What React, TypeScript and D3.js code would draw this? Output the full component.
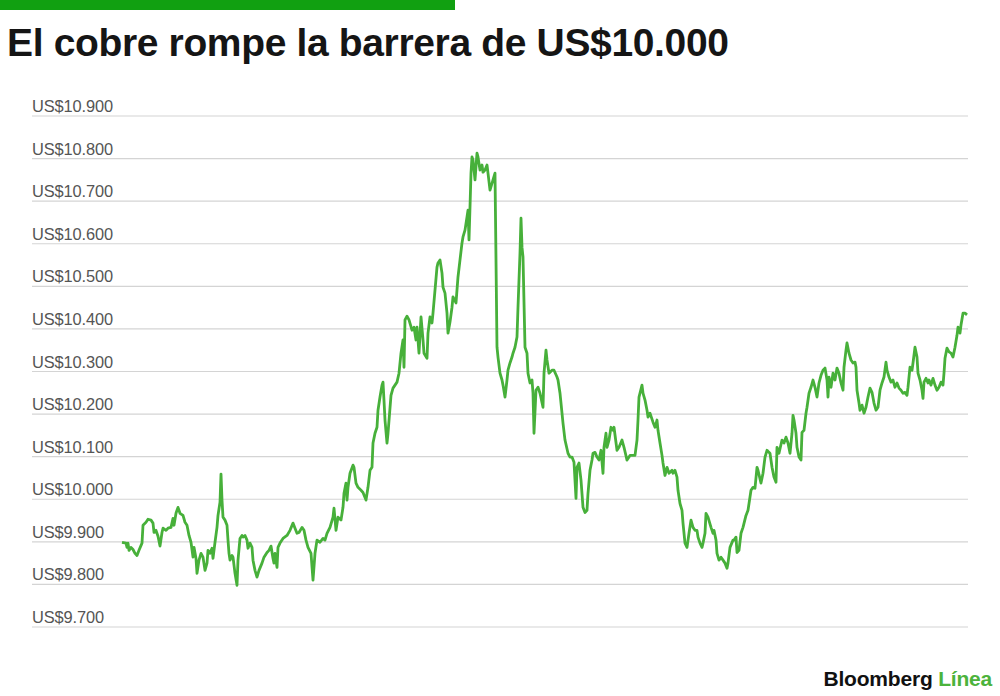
import * as d3 from 'd3'

const WIDTH = 1000
const HEIGHT = 696
const MARGIN = { top: 116, right: 32, bottom: 69, left: 32 }
const PLOT = { left: 122, right: 967 }

const TITLE = 'El cobre rompe la barrera de US$10.000'

// y ticks, US$ per tonne
const yTicks = [9700, 9800, 9900, 10000, 10100, 10200, 10300, 10400, 10500, 10600, 10700, 10800, 10900]

// session number (trading days from the first point) and price
const sessions = [
  0, 4, 5, 6, 7, 9, 11, 13, 15, 17, 20, 21, 24, 26, 29, 31, 32, 34, 36, 38, 40, 41, 44, 46, 49, 51, 52, 54, 56, 58,
  61, 63, 65, 67, 69, 71, 72, 74, 75, 77, 79, 81, 83, 85, 86, 88, 90, 91, 93, 95, 96, 98, 99, 100, 101, 103, 105, 106,
  107, 108, 110, 111, 113, 115, 116, 118, 120, 121, 123, 125, 126, 128, 130, 131, 133, 135, 137, 140, 142, 145, 147,
  149, 151, 152, 153, 155, 156, 158, 161, 165, 168, 171, 173, 175, 177, 180, 182, 184, 186, 189, 191, 193, 195, 198,
  201, 203, 205, 208, 211, 212, 214, 216, 219, 221, 222, 224, 225, 226, 228, 231, 232, 234, 236, 239, 241, 244, 246,
  248, 250, 251, 253, 255, 256, 258, 260, 261, 262, 263, 265, 266, 269, 271, 273, 275, 277, 279, 281, 282, 283, 285,
  287, 290, 292, 294, 295, 297, 299, 301, 302, 305, 306, 308, 310, 311, 313, 315, 316, 318, 320, 321, 323, 325, 326,
  328, 330, 331, 334, 336, 338, 340, 341, 343, 345, 346, 347, 348, 349, 350, 351, 353, 355, 356, 358, 360, 361, 363,
  365, 366, 368, 370, 371, 373, 375, 376, 378, 380, 381, 383, 385, 386, 388, 390, 391, 393, 395, 396, 397, 398, 399,
  400, 401, 403, 405, 406, 408, 410, 411, 412, 414, 416, 418, 421, 422, 424, 425, 427, 430, 432, 435, 436, 438, 440,
  441, 443, 446, 448, 450, 452, 454, 455, 457, 459, 461, 463, 465, 466, 468, 470, 471, 473, 475, 477, 479, 481, 482,
  484, 485, 487, 489, 491, 492, 495, 497, 500, 502, 505, 508, 511, 513, 515, 516, 517, 520, 521, 523, 525, 526, 528,
  531, 533, 535, 536, 538, 540, 541, 543, 545, 547, 550, 551, 553, 555, 556, 558, 560, 561, 563, 565, 567, 569, 571,
  573, 575, 576, 578, 580, 581, 583, 584, 586, 589, 591, 592, 594, 595, 597, 599, 601, 603, 605, 606, 608, 611, 612,
  614, 615, 617, 619, 621, 624, 626, 629, 631, 633, 635, 636, 639, 641, 643, 645, 647, 648, 650, 652, 654, 655, 657,
  660, 662, 664, 666, 668, 670, 671, 672, 674, 675, 677, 679, 680, 682, 684, 685, 687, 689, 691, 693, 695, 697, 699,
  701, 703, 705, 706, 707, 709, 711, 713, 715, 717, 719, 721, 722, 724, 725, 727, 729, 731, 733, 734, 735, 737, 738,
  740, 742, 744, 746, 748, 750, 752, 754, 756, 758, 760, 762, 764, 765, 767, 769, 771, 773, 775, 777, 779, 781, 783,
  785, 786, 788, 790, 791, 793, 795, 796, 798, 800, 801, 802, 804, 806, 807, 809, 811, 813, 815, 817, 819, 821, 822,
  823, 825, 827, 829, 831, 833, 835, 836, 838, 839, 841, 843, 845,
]

const prices = [
  9899, 9897, 9887, 9897, 9880, 9887, 9882, 9873, 9868, 9880, 9897, 9939, 9946, 9953, 9951, 9944, 9922, 9927, 9913,
  9890, 9922, 9932, 9927, 9932, 9934, 9955, 9939, 9967, 9981, 9967, 9962, 9946, 9939, 9915, 9899, 9864, 9887, 9861,
  9826, 9857, 9873, 9864, 9833, 9850, 9880, 9873, 9885, 9861, 9899, 9934, 9962, 9993, 10059, 9998, 9958, 9951, 9939,
  9904, 9873, 9857, 9868, 9864, 9826, 9798, 9857, 9908, 9915, 9911, 9915, 9904, 9885, 9897, 9887, 9857, 9833, 9817,
  9833, 9850, 9864, 9875, 9880, 9890, 9861, 9850, 9873, 9840, 9887, 9897, 9908, 9915, 9927, 9944, 9932, 9920, 9922,
  9934, 9927, 9904, 9887, 9873, 9810, 9873, 9904, 9899, 9908, 9904, 9920, 9934, 9958, 9979, 9927, 9958, 9951, 9981,
  10014, 10038, 9998, 10028, 10061, 10080, 10075, 10038, 10028, 10021, 10016, 9998, 10028, 10068, 10075, 10132, 10155,
  10169, 10209, 10240, 10268, 10275, 10232, 10186, 10132, 10155, 10244, 10261, 10268, 10275, 10296, 10343, 10374,
  10310, 10421, 10430, 10421, 10397, 10404, 10374, 10404, 10343, 10428, 10374, 10343, 10331, 10390, 10428, 10414,
  10437, 10491, 10545, 10555, 10562, 10531, 10498, 10484, 10437, 10390, 10416, 10451, 10475, 10461, 10522, 10562,
  10602, 10616, 10632, 10663, 10679, 10609, 10686, 10766, 10804, 10797, 10750, 10813, 10804, 10773, 10785, 10768,
  10773, 10785, 10766, 10726, 10742, 10750, 10766, 10357, 10334, 10296, 10280, 10268, 10240, 10280, 10303, 10320,
  10334, 10343, 10357, 10381, 10451, 10515, 10578, 10660, 10592, 10569, 10357, 10343, 10296, 10273, 10280, 10249,
  10155, 10256, 10263, 10249, 10216, 10296, 10350, 10327, 10296, 10303, 10303, 10287, 10280, 10249, 10202, 10179,
  10139, 10108, 10099, 10099, 10087, 10002, 10075, 10085, 10045, 9981, 9969, 9974, 10014, 10068, 10092, 10108, 10110,
  10099, 10092, 10115, 10061, 10122, 10155, 10122, 10139, 10169, 10162, 10169, 10115, 10122, 10139, 10122, 10092,
  10103, 10103, 10103, 10139, 10186, 10240, 10268, 10249, 10233, 10209, 10193, 10202, 10181, 10169, 10186, 10162,
  10132, 10103, 10085, 10056, 10075, 10061, 10068, 10061, 10068, 10052, 10021, 9990, 9974, 9944, 9897, 9887, 9920,
  9951, 9934, 9927, 9927, 9911, 9897, 9887, 9897, 9920, 9967, 9958, 9934, 9920, 9927, 9904, 9873, 9857, 9864, 9857,
  9850, 9838, 9850, 9887, 9904, 9904, 9911, 9875, 9880, 9920, 9934, 9962, 9974, 10021, 10028, 10026, 10075, 10068,
  10038, 10061, 10099, 10115, 10110, 10108, 10075, 10052, 10040, 10122, 10108, 10139, 10132, 10146, 10132, 10108,
  10155, 10197, 10186, 10155, 10122, 10099, 10092, 10157, 10162, 10202, 10216, 10249, 10263, 10280, 10263, 10240,
  10273, 10291, 10303, 10308, 10280, 10240, 10287, 10263, 10296, 10280, 10308, 10296, 10273, 10256, 10310, 10350,
  10367, 10343, 10327, 10320, 10322, 10310, 10256, 10226, 10209, 10221, 10202, 10216, 10240, 10261, 10251, 10226,
  10209, 10216, 10256, 10273, 10287, 10322, 10303, 10287, 10275, 10280, 10263, 10273, 10261, 10256, 10249, 10251,
  10244, 10263, 10310, 10303, 10320, 10357, 10334, 10296, 10280, 10256, 10237, 10275, 10284, 10273, 10280, 10268,
  10284, 10268, 10256, 10263, 10275, 10268, 10296, 10331, 10355, 10346, 10343, 10334, 10357, 10385, 10404, 10390,
  10409, 10437, 10437, 10433,
]

const series = sessions.map((s, i) => ({ s, v: prices[i] }))

const fmt = (v: number) => 'US$' + d3.format(',')(v).replace(/,/g, '.')

export default function App() {
  const yScale = d3
    .scaleLinear()
    .domain([9700, 10900])
    .range([HEIGHT - MARGIN.bottom, MARGIN.top])
  const xScale = d3
    .scaleLinear()
    .domain([0, d3.max(sessions) as number])
    .range([PLOT.left, PLOT.right])

  const line = d3
    .line<{ s: number; v: number }>()
    .x((d) => xScale(d.s))
    .y((d) => yScale(d.v))

  return (
    <svg
      width={WIDTH}
      height={HEIGHT}
      style={{ position: 'absolute', left: 0, top: 0, background: '#fff' }}
      fontFamily="'Liberation Sans', Arial, sans-serif"
    >
      {/* green bar on top */}
      <rect x={0} y={0} width={455} height={10} fill="#11a011" />

      <text x={7} y={56} fontSize={39} fontWeight={700} fill="#151515" letterSpacing={-0.35}>
        {TITLE}
      </text>

      {/* grid + y labels */}
      {yTicks.map((t) => (
        <g key={t}>
          <line
            x1={MARGIN.left}
            x2={WIDTH - MARGIN.right}
            y1={yScale(t)}
            y2={yScale(t)}
            stroke="#d4d4d4"
            strokeWidth={1.2}
          />
          <text x={MARGIN.left} y={yScale(t) - 4} fontSize={16.4} fill="#555" letterSpacing={-0.1}>
            {fmt(t)}
          </text>
        </g>
      ))}

      <path d={line(series) ?? ''} fill="none" stroke="#47b03a" strokeWidth={2.8} strokeLinejoin="round" />

      {/* logo */}
      <text x={992} y={686} textAnchor="end" fontSize={21} fontWeight={700} letterSpacing={-0.2}>
        <tspan fill="#111">Bloomberg </tspan>
        <tspan fill="#4cb33c">Línea</tspan>
      </text>
    </svg>
  )
}
